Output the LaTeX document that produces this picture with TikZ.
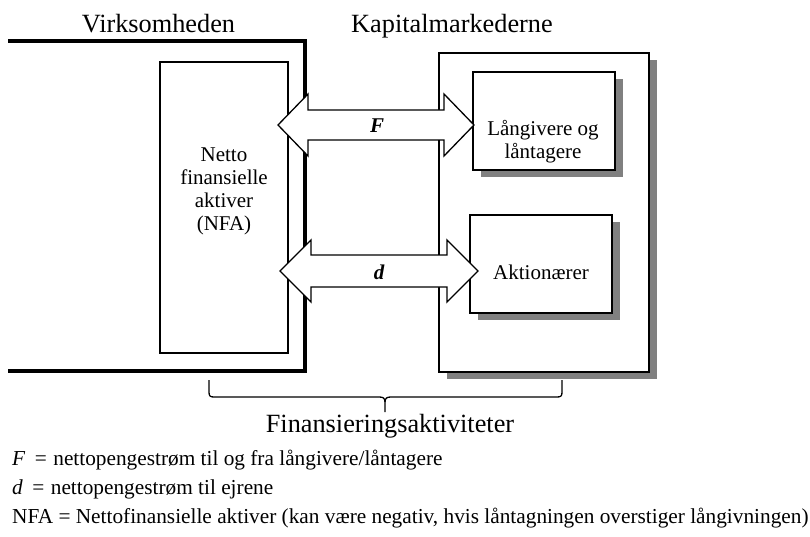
\documentclass[tikz,border=0pt]{standalone}
\usepackage{fontspec}
\setmainfont{Liberation Serif}
\usetikzlibrary{shadows}
\definecolor{shadowgray}{HTML}{808080}
\begin{document}
\begin{tikzpicture}[x=1pt,y=-1pt,line join=miter,
  frame/.style={line width=3.2pt},
  boxline/.style={draw,line width=1.3pt,fill=white,inner sep=0pt},
  shadowed/.style={boxline,drop shadow={shadow xshift=8pt,shadow yshift=-7pt,fill=shadowgray,opacity=1}},
  head/.style={font=\fontsize{26.3}{30}\selectfont,anchor=base,inner sep=0pt},
  inner/.style={font=\fontsize{21}{23}\selectfont,align=center,inner sep=0pt},
  flow/.style={draw,line width=1.3pt,fill=white},
  flowlabel/.style={font=\fontsize{21}{23}\selectfont\bfseries\itshape,inner sep=0pt},
  legend/.style={font=\fontsize{21.3}{25}\selectfont,anchor=base west,inner sep=0pt},
  bracel/.style={line width=1.3pt}]
\useasboundingbox (0,0) rectangle (810,537);

% headings
\node[head] (hv) at (158.5,33) {Virksomheden};
\node[head] (hk) at (452,33) {Kapitalmarkederne};

% the firm: thick frame open to the left
\draw[frame] (8,41) -- (305,41) -- (305,371) -- (8,371);

% net financial assets
\node[boxline,minimum width=128pt,minimum height=291pt] (nfa) at (224,207.5) {};
\node[inner] (nfat) at (224,191) {Netto\\finansielle\\aktiver\\(NFA)};

% capital markets
\node[shadowed,minimum width=210pt,minimum height=319pt] (km) at (544,212.5) {};
\node[shadowed,minimum width=142pt,minimum height=98pt] (lan) at (544,121) {};
\node[inner] (lant) at (543,141.5) {Långivere og\\låntagere};
\node[shadowed,minimum width=142pt,minimum height=98pt] (akt) at (541,264) {};
\node[inner] (aktt) at (541,272) {Aktionærer};

% flows F and d (double block arrows)
\draw[flow] (278,125) -- (308,94) -- (308,110) -- (444,110) -- (444,94) -- (474,125)
  -- (444,156) -- (444,140) -- (308,140) -- (308,156) -- cycle;
\node[flowlabel] (fl) at (377,126) {F};
\draw[flow] (280,271) -- (311,240) -- (311,255) -- (447,255) -- (447,240) -- (478,271)
  -- (447,302) -- (447,287) -- (311,287) -- (311,302) -- cycle;
\node[flowlabel] (dl) at (379,272) {d};

% brace under the financing activities
\draw[bracel] (209,380) -- (209,392) .. controls (209,396) and (210,397) .. (214,397)
  -- (379,397) .. controls (383,397) and (385,398) .. (385,402) -- (385,412);
\draw[bracel] (562,380) -- (562,392) .. controls (562,396) and (561,397) .. (557,397)
  -- (391,397) .. controls (387,397) and (385,398) .. (385,402);
\node[head] (fin) at (390,432) {Finansieringsaktiviteter};

% legend
\node[legend] (l1) at (12,465) {\textit{F}\hspace{0.45em}=\hspace{0.3em}nettopengestrøm til og fra långivere/låntagere};
\node[legend] (l2) at (12,494) {\textit{d}\hspace{0.45em}=\hspace{0.3em}nettopengestrøm til ejrene};
\node[legend] (l3) at (12,523) {NFA = Nettofinansielle aktiver (kan være negativ, hvis låntagningen overstiger långivningen)};
\end{tikzpicture}
\end{document}
